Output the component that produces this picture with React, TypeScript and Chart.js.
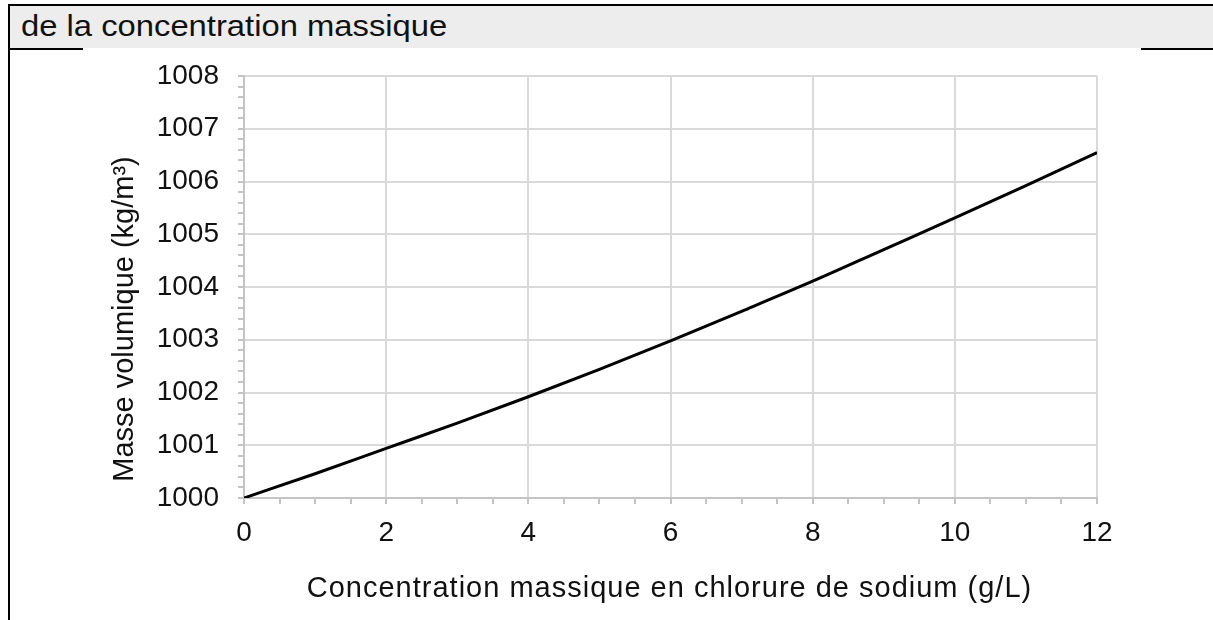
import React, { useEffect, useRef } from "react";
import { Chart, registerables } from "chart.js";

Chart.register(...registerables);

const headerTitle = "de la concentration massique";
const xTitle = "Concentration massique en chlorure de sodium (g/L)";
const yTitle = "Masse volumique (kg/m³)";

const concentrations = [0, 1, 2, 3, 4, 5, 6, 7, 8, 9, 10, 11, 12];
const densities = [
  1000.0, 1000.46, 1000.94, 1001.42, 1001.92, 1002.44, 1002.98, 1003.54,
  1004.11, 1004.71, 1005.31, 1005.92, 1006.55,
];

const xMin = 0;
const xMax = 12;
const xMinorStep = 0.5;
const xLabelStep = 2;
const yMin = 1000;
const yMax = 1008;
const yMinorStep = 0.2;
const yLabelStep = 1;

const FONT = '"Liberation Sans", Arial, sans-serif';

const isMultiple = (v: number, step: number) => {
  const r = v / step;
  return Math.abs(r - Math.round(r)) < 1e-6;
};

const titlesPlugin = {
  id: "customTitles",
  afterDraw(chart: any) {
    const { ctx, chartArea } = chart;
    ctx.save();
    ctx.fillStyle = "#111";
    ctx.textAlign = "center";
    ctx.textBaseline = "alphabetic";
    ctx.font = `29px ${FONT}`;
    try {
      (ctx as any).letterSpacing = "1px";
    } catch (e) {}
    ctx.fillText(xTitle, (chartArea.left + chartArea.right) / 2 - 1, 597);
    try {
      (ctx as any).letterSpacing = "0px";
    } catch (e) {}
    ctx.translate(133, 319);
    ctx.rotate(-Math.PI / 2);
    ctx.fillText(yTitle, 0, 0);
    ctx.restore();
  },
};

export default function App() {
  const canvasRef = useRef<HTMLCanvasElement | null>(null);

  useEffect(() => {
    if (!canvasRef.current) return;
    const chart = new Chart(canvasRef.current, {
      type: "line",
      data: {
        datasets: [
          {
            data: concentrations.map((c, i) => ({ x: c, y: densities[i] })),
            borderColor: "#000",
            borderWidth: 3,
            pointRadius: 0,
            tension: 0.3,
            cubicInterpolationMode: "monotone",
            fill: false,
          },
        ],
      },
      options: {
        animation: false,
        responsive: false,
        devicePixelRatio: 1,
        layout: { padding: { left: 0, top: 76, right: 116, bottom: 0 } },
        plugins: {
          legend: { display: false },
          tooltip: { enabled: false },
          title: { display: false },
        },
        scales: {
          x: {
            type: "linear",
            min: xMin,
            max: xMax,
            afterFit: (s: any) => {
              s.height = 122;
            },
            ticks: {
              stepSize: xMinorStep,
              autoSkip: false,
              maxRotation: 0,
              padding: 12,
              color: "#111",
              font: { family: FONT, size: 28 },
              callback: (v: any) => (isMultiple(Number(v), xLabelStep) ? String(Math.round(Number(v))) : ""),
            },
            grid: {
              color: (ctx: any) =>
                ctx.tick && isMultiple(ctx.tick.value, xLabelStep) ? "#d9d9d9" : "rgba(0,0,0,0)",
              lineWidth: 2,
              tickColor: "#c4c4c4",
              tickLength: 6,
              drawTicks: true,
            },
            border: { color: "#c4c4c4", width: 2 },
          },
          y: {
            type: "linear",
            min: yMin,
            max: yMax,
            afterFit: (s: any) => {
              s.width = 244;
            },
            ticks: {
              stepSize: yMinorStep,
              autoSkip: false,
              padding: 19,
              color: "#111",
              font: { family: FONT, size: 28 },
              callback: (v: any) => (isMultiple(Number(v), yLabelStep) ? String(Math.round(Number(v))) : ""),
            },
            grid: {
              color: (ctx: any) =>
                ctx.tick && isMultiple(ctx.tick.value, yLabelStep) ? "#d9d9d9" : "rgba(0,0,0,0)",
              lineWidth: 2,
              tickColor: "#c4c4c4",
              tickLength: 6,
              drawTicks: true,
            },
            border: { color: "#c4c4c4", width: 2 },
          },
        },
      },
      plugins: [titlesPlugin],
    });
    return () => chart.destroy();
  }, []);

  return (
    <div
      style={{
        position: "fixed",
        left: 0,
        top: 0,
        width: 1213,
        height: 620,
        background: "#fff",
        overflow: "hidden",
      }}
    >
      <div style={{ position: "absolute", left: 10, top: 6, width: 1203, height: 42, background: "#ededed" }} />
      <div style={{ position: "absolute", left: 8, top: 4, width: 1205, height: 2, background: "#000" }} />
      <div style={{ position: "absolute", left: 8, top: 4, width: 2, height: 616, background: "#000" }} />
      <div style={{ position: "absolute", left: 10, top: 48, width: 73, height: 2, background: "#000" }} />
      <div style={{ position: "absolute", left: 1141, top: 48, width: 72, height: 2, background: "#000" }} />
      <div
        style={{
          position: "absolute",
          left: 21,
          top: 12,
          fontFamily: FONT,
          fontSize: 29,
          lineHeight: "29px",
          color: "#111",
          whiteSpace: "nowrap",
          transform: "scaleX(1.13)",
          transformOrigin: "left top",
        }}
      >
        {headerTitle}
      </div>
      <canvas
        ref={canvasRef}
        width={1213}
        height={620}
        style={{ position: "absolute", left: 0, top: 0, width: 1213, height: 620 }}
      />
    </div>
  );
}
